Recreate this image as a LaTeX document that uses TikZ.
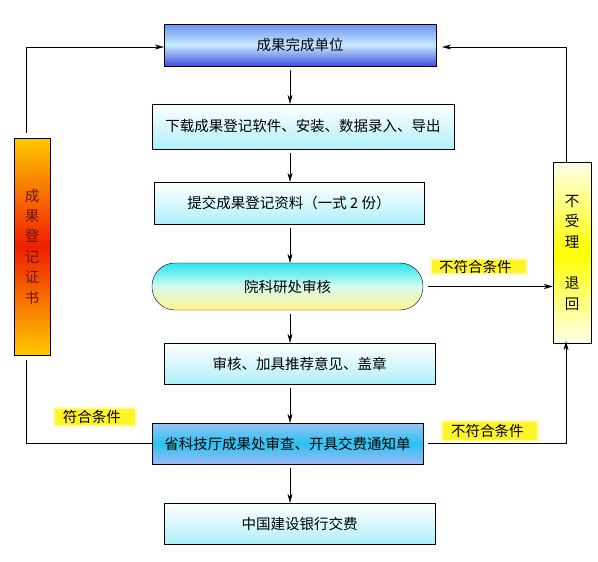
\documentclass[tikz,border=0pt]{standalone}
\usepackage{fontspec}
\newfontfamily\cjk{Noto Sans CJK SC}
\usetikzlibrary{positioning, arrows.meta, calc}
\definecolor{unittop}{RGB}{105,145,240}
\definecolor{unitmid}{RGB}{200,235,255}
\definecolor{unitbot}{RGB}{60,80,225}
\definecolor{paleblue}{RGB}{175,240,250}
\definecolor{collegetop}{RGB}{40,230,240}
\definecolor{collegemid}{RGB}{215,250,240}
\definecolor{collegebot}{RGB}{255,245,140}
\definecolor{provtop}{RGB}{150,195,245}
\definecolor{provmid}{RGB}{40,195,240}
\definecolor{provbot}{RGB}{160,185,245}
\definecolor{certedge}{RGB}{255,200,0}
\definecolor{certmid}{RGB}{240,30,0}
\definecolor{certtext}{RGB}{110,20,10}
\definecolor{rejectedge}{RGB}{255,255,235}
\tikzset{
    >={Stealth[length=9pt,width=5pt]}, % Arrowheads
    every node/.style={font=\cjk\fontsize{14.5}{17}\selectfont, inner sep=0pt},
    box/.style={draw, thin, top color=white, bottom color=paleblue, minimum width=271pt, minimum height=41pt},
    unitbox/.style={box, top color=unittop, bottom color=unitbot, middle color=unitmid, minimum width=272pt, minimum height=42pt},
    college/.style={box, rounded corners=23pt, top color=collegetop, bottom color=collegebot, middle color=collegemid, minimum height=47pt},
    province/.style={box, top color=provtop, bottom color=provbot, middle color=provmid},
    cert/.style={draw, thin, top color=certedge, bottom color=certedge, middle color=certmid, text=certtext, align=center, minimum width=36pt, minimum height=217pt, font=\cjk\fontsize{14.5}{20.4}\selectfont},
    reject/.style={draw, thin, top color=rejectedge, bottom color=rejectedge, middle color=yellow, align=center, minimum width=38pt, minimum height=181pt, font=\cjk\fontsize{14.5}{20.6}\selectfont},
    glow/.style={fill=yellow!85, draw=yellow!30, line width=2pt, align=left},
    link/.style={thin}
}
\begin{document}
\begin{tikzpicture}[x=1pt, y=-1pt]
    \useasboundingbox (0,0) rectangle (598,562);

    \node[unitbox] (unit) at (300,45) {成果完成单位};
    \node[box, minimum width=302pt, minimum height=45pt] (soft) at (303,126.5) {下载成果登记软件、安装、数据录入、导出};
    \node[box, minimum width=270pt, minimum height=42pt] (submit) at (289,203) {提交成果登记资料（一式 2 份）};
    \node[college] (college) at (287.5,286.5) {院科研处审核};
    \node[box] (recommend) at (299.5,363.5) {审核、加具推荐意见、盖章};
    \node[province] (province) at (287.5,443.5) {省科技厅成果处审查、开具交费通知单};
    \node[box] (bank) at (299.5,523.5) {中国建设银行交费};
    \node[cert] (cert) at (32,246.5) {成\\果\\登\\记\\证\\书};
    \node[reject] (reject) at (572,252.5) {不\\受\\理\\\mbox{}\\退\\回};

    \node[glow, text width=80pt, inner xsep=8pt, minimum height=15pt] (nofit1) at (479,266.5) {不符合条件};
    \node[glow, text width=78pt, inner xsep=9pt, minimum height=20pt] (nofit2) at (490,431) {不符合条件};
    \node[glow, text width=64pt, inner xsep=9pt, minimum height=18pt] (fit) at (95,417) {符合条件};

    \coordinate (axis) at (290,0);
    \coordinate (lcorner) at (26,47);
    \coordinate (rcorner) at (566,47);

    % main flow
    \foreach \a/\b in {unit/soft, soft/submit, submit/college, college/recommend, recommend/province, province/bank}
        \draw[link, ->, shorten <=4pt] (\a.south -| axis) -- (\b.north -| axis);

    % loops back to the top
    \draw[link, ->] ($(cert.north -| lcorner)+(0,-5)$) -- (lcorner) -- (lcorner -| unit.west);
    \draw[link, ->, shorten >=6pt] (reject.north -| rcorner) -- (rcorner) -- (rcorner -| unit.east);

    % rejections and certificate
    \draw[link, ->, shorten <=5pt] (college.east) -- (college.east -| reject.west);
    \draw[link, ->, shorten <=5pt, shorten >=-2pt] (province.east) -- (province.east -| rcorner) -- (reject.south -| rcorner);
    \draw[link] (province.west) -- (province.west -| lcorner) -- ($(cert.south -| lcorner)+(0,5)$);
\end{tikzpicture}
\end{document}
